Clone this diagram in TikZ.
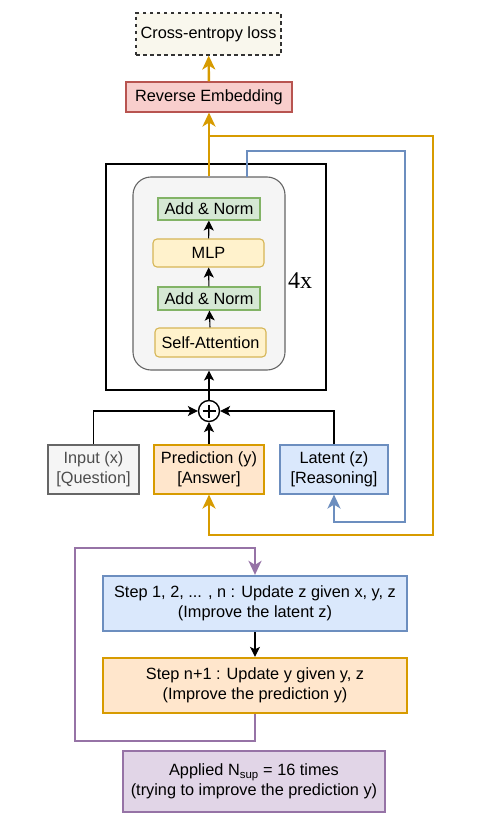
\documentclass[tikz,border=0pt]{standalone}
\usepackage{fontspec}
\setmainfont{Liberation Sans}
\newfontfamily\timesx{Liberation Serif}
\usetikzlibrary{arrows.meta}
\definecolor{orng}{HTML}{D79B00}
\definecolor{orngfill}{HTML}{FFE6CC}
\definecolor{blu}{HTML}{6C8EBF}
\definecolor{blufill}{HTML}{DAE8FC}
\definecolor{grn}{HTML}{82B366}
\definecolor{grnfill}{HTML}{D5E8D4}
\definecolor{ylw}{HTML}{D6B656}
\definecolor{ylwfill}{HTML}{FFF2CC}
\definecolor{redd}{HTML}{B85450}
\definecolor{reddfill}{HTML}{F8CECC}
\definecolor{gry}{HTML}{666666}
\definecolor{gryfill}{HTML}{F5F5F5}
\definecolor{purp}{HTML}{9673A6}
\definecolor{purpfill}{HTML}{E1D5E7}
\definecolor{cream}{HTML}{F9F7ED}
\definecolor{txtgray}{HTML}{4D4D4D}
\tikzset{
  box/.style={draw, inner sep=0pt, align=center, line width=1.1pt,
    font=\fontsize{16.3pt}{20pt}\selectfont},
  bigarrow/.style={-{Stealth[length=14pt,width=13pt,inset=4pt]}},
  smallarrow/.style={-{Stealth[length=10pt,width=10pt,inset=2.5pt]}, line width=1.1pt, black},
  colline/.style={line width=2.4pt},
}
\begin{document}
\begin{tikzpicture}[x=1pt,y=-1pt]
\useasboundingbox (0,0) rectangle (487,832);
% top
\node[box, dashed, dash pattern=on 3.5pt off 3.5pt, draw=black!80, fill=cream, minimum width=145pt, minimum height=42pt] (loss) at (208.5,34) {Cross-entropy loss};
\node[box, draw=redd, fill=reddfill, minimum width=166pt, minimum height=30pt] (rev) at (209,97) {Reverse Embedding};
% transformer block
\node[draw=black, line width=1.1pt, minimum width=220pt, minimum height=226pt, inner sep=0pt] (outer) at (216,277) {};
\node[draw=gry, fill=gryfill, line width=1.1pt, rounded corners=18pt, minimum width=152pt, minimum height=193pt, inner sep=0pt] (blk) at (209,273.5) {};
\node[box, draw=grn, fill=grnfill, minimum width=102pt, minimum height=22pt] (an2) at (209,209) {Add \& Norm};
\node[box, draw=ylw, fill=ylwfill, rounded corners=4pt, minimum width=111pt, minimum height=28pt] (mlp) at (208.5,253) {MLP};
\node[box, draw=grn, fill=grnfill, minimum width=102pt, minimum height=23pt] (an1) at (209,298.5) {Add \& Norm};
\node[box, draw=ylw, fill=ylwfill, rounded corners=4pt, minimum width=111pt, minimum height=29pt] (sa) at (210.5,342.5) {Self-Attention};
\node[font=\timesx\fontsize{24pt}{28pt}\selectfont, inner sep=0pt] (rep) at (300,281) {4x};
% plus
\node[draw, circle, line width=1.4pt, minimum size=21pt, inner sep=0pt] (plus) at (209,411) {};
\draw[line width=2pt] ([yshift=-6.5pt]plus.center) -- ([yshift=6.5pt]plus.center);
\draw[line width=2pt] ([xshift=-6.5pt]plus.center) -- ([xshift=6.5pt]plus.center);
% inputs
\node[box, draw=gry, fill=gryfill, text=txtgray, minimum width=91pt, minimum height=49pt] (inp) at (93.5,469.5) {Input (x)\\{[Question]}};
\node[box, draw=orng, fill=orngfill, minimum width=110pt, minimum height=49pt] (pred) at (209,469.5) {Prediction (y)\\{[Answer]}};
\node[box, draw=blu, fill=blufill, minimum width=108pt, minimum height=49pt] (lat) at (334,469.5) {Latent (z)\\{[Reasoning]}};
% steps
\node[box, line width=2.3pt, draw=blu, fill=blufill, minimum width=304pt, minimum height=55pt] (s1) at (255,603.5) {Step 1, 2, ... , n : Update z given x, y, z\\(Improve the latent z)};
\node[box, line width=2.3pt, draw=orng, fill=orngfill, minimum width=304pt, minimum height=55pt] (s2) at (255,685.5) {Step n+1 : Update y given y, z\\(Improve the prediction y)};
\node[box, line width=2.3pt, draw=purp, fill=purpfill, minimum width=262pt, minimum height=61pt] (app) at (254,781.5) {Applied N\textsubscript{sup} = 16 times\\(trying to improve the prediction y)};
% coordinates
\coordinate (oj) at (209,136);
\coordinate (oc) at (433,535);
\coordinate (bj) at (247,177);
\coordinate (bt) at (247,151);
\coordinate (bc) at (405,522);
\coordinate (p1) at (75,741);
\coordinate (p3) at (255,548);
% black arrows
\draw[smallarrow] (sa) -- (an1);
\draw[smallarrow] (an1) -- (mlp);
\draw[smallarrow] (mlp) -- (an2);
\draw[smallarrow] (plus) -- (blk.south);
\draw[smallarrow] (pred) -- (plus);
\draw[smallarrow] (inp.north) |- (plus.west);
\draw[smallarrow] (lat.north) |- (plus.east);
\draw[smallarrow] (s1) -- (s2);
% coloured lines
\draw[colline, orng, bigarrow] (rev) -- (loss);
\draw[colline, orng, bigarrow] (blk.north) -- (rev);
\draw[colline, orng, bigarrow] (oj) -| (oc) -| (pred.south);
\draw[colline, blu, bigarrow] (bj) -- (bt) -| (bc) -| (lat.south);
\draw[colline, purp, bigarrow] (s2.south) |- (p1) |- (p3) -- (s1.north);
\end{tikzpicture}
\end{document}
